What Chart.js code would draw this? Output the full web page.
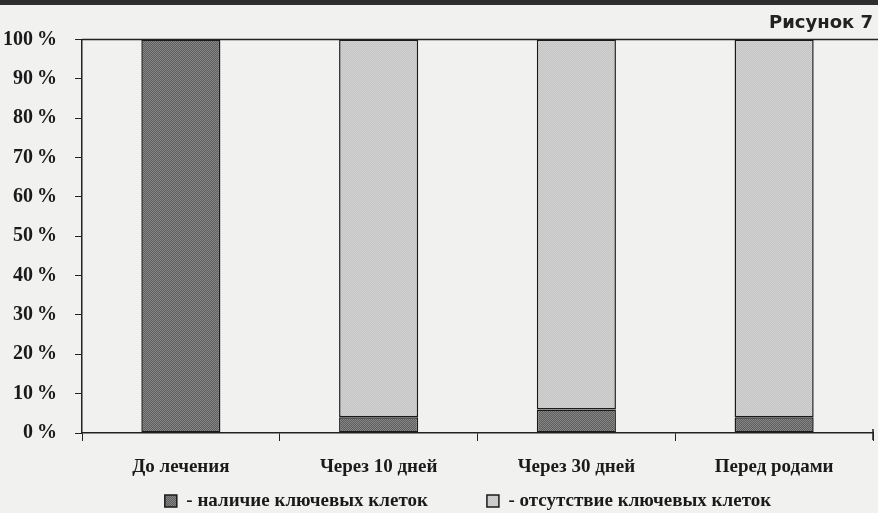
<!DOCTYPE html>
<html>
<head>
<meta charset="utf-8">
<script src="https://cdn.jsdelivr.net/npm/chart.js@4.4.1/dist/chart.umd.min.js"></script>
<style>
    html, body {
        margin: 0;
        padding: 0;
        background: #f1f1f0;
    }
    body {
        position: relative;
        width: 878px;
        height: 513px;
        overflow: hidden;
    }
    .topBand {
        position: absolute;
        left: 0;
        top: 0;
        width: 878px;
        height: 5px;
        background: #2e2e2e;
    }
</style>
</head>
<body>
<canvas id="figureChart" width="878" height="513"></canvas>
<div class="topBand"></div>
<script>
let categories = ['До лечения', 'Через 10 дней', 'Через 30 дней', 'Перед родами'],
    presentValues = [100, 4, 6, 4],
    absentValues = [null, 96, 94, 96],
    seriesNames = ['- наличие ключевых клеток', '- отсутствие ключевых клеток'],
    yTicks = [0, 10, 20, 30, 40, 50, 60, 70, 80, 90, 100],
    chartTitle = 'Рисунок 7';

const serif = '"Liberation Serif", "Times New Roman", serif';

// little 2x2 dither so the bars look like the printed stipple
function stipple(a, b) {
    const c = document.createElement('canvas');
    c.width = 2;
    c.height = 2;
    const ctx = c.getContext('2d');
    ctx.fillStyle = a;
    ctx.fillRect(0, 0, 2, 2);
    ctx.fillStyle = b;
    ctx.fillRect(0, 0, 1, 1);
    ctx.fillRect(1, 1, 1, 1);
    return ctx.createPattern(c, 'repeat');
}

const darkFill = stipple('#5e5e5e', '#868686'),
      lightFill = stipple('#c3c3c3', '#d3d3d3');

// top rule of the frame, the scan shows one across the plot
const frameLine = {
    id: 'frameLine',
    afterDraw(chart) {
        const area = chart.chartArea,
              ctx = chart.ctx;
        ctx.save();
        ctx.strokeStyle = '#222';
        ctx.lineWidth = 1.5;
        ctx.beginPath();
        ctx.moveTo(area.left, area.top);
        ctx.lineTo(chart.width, area.top);
        ctx.moveTo(area.right, area.bottom - 4);
        ctx.lineTo(area.right, area.bottom + 7);
        ctx.stroke();
        ctx.restore();
    }
};

const chartCanvas = document.querySelector('#figureChart').getContext('2d');

new Chart(chartCanvas, {
    type: 'bar',
    data: {
        labels: categories,
        datasets: [
            {
                label: seriesNames[0],
                data: presentValues,
                backgroundColor: darkFill,
                borderColor: '#1a1a1a',
                borderWidth: 1.5,
                borderSkipped: false
            },
            {
                label: seriesNames[1],
                data: absentValues,
                backgroundColor: lightFill,
                borderColor: '#1a1a1a',
                borderWidth: 1.5,
                borderSkipped: false
            }
        ]
    },
    options: {
        responsive: false,
        animation: false,
        layout: {
            padding: { left: 4, right: 5, top: 0, bottom: -7.5 }
        },
        datasets: {
            bar: {
                barPercentage: 0.4,
                categoryPercentage: 1
            }
        },
        plugins: {
            title: {
                display: true,
                text: chartTitle,
                align: 'end',
                color: '#222',
                font: { family: '"DejaVu Sans", sans-serif', size: 18, weight: 'bold' },
                padding: { top: 13, bottom: 5 }
            },
            legend: {
                position: 'bottom',
                fullSize: false,
                labels: {
                    color: '#1a1a1a',
                    boxWidth: 12,
                    boxHeight: 12,
                    padding: 2,
                    font: { family: serif, size: 19, weight: 'bold', lineHeight: 0.63 },
                    generateLabels: function(chart) {
                        const items = Chart.defaults.plugins.legend.labels.generateLabels(chart);
                        // wider gap between the two entries, as in the print
                        items[0].text = items[0].text + '\u2003\u2003\u2003';
                        items[1].text = items[1].text + '\u2003';
                        return items;
                    }
                }
            },
            tooltip: { enabled: false }
        },
        scales: {
            x: {
                stacked: true,
                afterFit: function(axis) {
                    axis.height = 56.5;
                },
                grid: {
                    drawOnChartArea: false,
                    drawTicks: true,
                    tickLength: 8,
                    color: '#222',
                    offset: true
                },
                border: { color: '#222', width: 1.5 },
                ticks: {
                    color: '#1a1a1a',
                    padding: 14.6,
                    font: { family: serif, size: 19, weight: 'bold' }
                }
            },
            y: {
                stacked: true,
                min: 0,
                max: 100,
                afterBuildTicks: function(axis) {
                    axis.ticks = yTicks.map(v => ({ value: v }));
                },
                afterFit: function(axis) {
                    axis.width = 78;
                },
                grid: {
                    drawOnChartArea: false,
                    drawTicks: true,
                    tickLength: 7,
                    color: '#222'
                },
                border: { color: '#222', width: 1.5 },
                ticks: {
                    color: '#1a1a1a',
                    padding: 18,
                    font: { family: serif, size: 20, weight: 'bold' },
                    callback: value => value + '\u2009%'
                }
            }
        }
    },
    plugins: [frameLine]
});
</script>
</body>
</html>
